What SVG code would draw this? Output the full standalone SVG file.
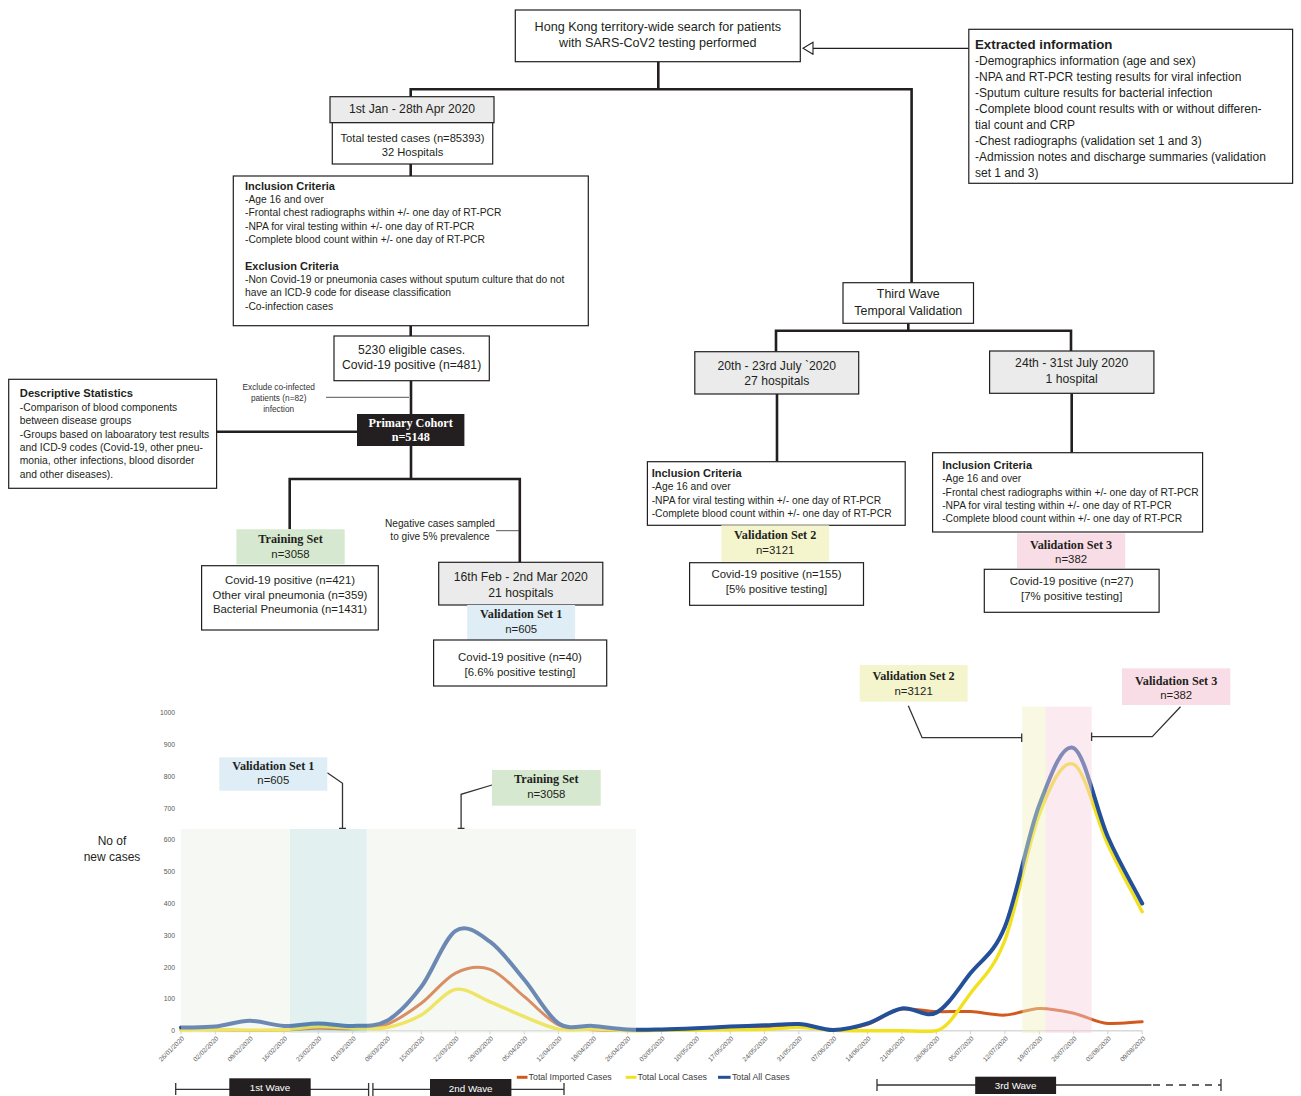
<svg xmlns="http://www.w3.org/2000/svg" width="1301" height="1096" viewBox="0 0 1301 1096">
<defs>
<style>
.box{fill:#fff;stroke:#231f20;stroke-width:1.2}
.gbox{fill:#ebebeb;stroke:#231f20;stroke-width:1.2}
.t{font-family:"Liberation Sans",Arial,sans-serif;fill:#231f20;dominant-baseline:central}
.c{text-anchor:middle}
.b{font-weight:bold}
.s{font-family:"Liberation Serif","Times New Roman",serif;font-weight:bold;font-size:12.2px}
.f12{font-size:12.2px}
.f11{font-size:11.4px}
.f10{font-size:10.3px}
.conn{stroke:#231f20;stroke-width:2.6;fill:none}
.thin{stroke:#555;stroke-width:1;fill:none}
.cl{stroke:#333;stroke-width:1.3;fill:none}
.dl{font-family:"Liberation Sans",Arial,sans-serif;font-size:6.5px;fill:#595959;text-anchor:end}
.yl{font-family:"Liberation Sans",Arial,sans-serif;font-size:6.8px;fill:#595959;text-anchor:end;dominant-baseline:central}
.lg{font-family:"Liberation Sans",Arial,sans-serif;font-size:8.8px;fill:#404040;dominant-baseline:central}
.wv{font-family:"Liberation Sans",Arial,sans-serif;font-size:9.8px;fill:#fff;text-anchor:middle;dominant-baseline:central}
</style>
<marker id="openTri" markerUnits="userSpaceOnUse" markerWidth="12" markerHeight="14" refX="10.5" refY="7" orient="auto" viewBox="0 0 12 14">
<path d="M0.5,1 L10.5,7 L0.5,13 Z" fill="#fff" stroke="#231f20" stroke-width="1.1"/>
</marker>
</defs>
<rect width="1301" height="1096" fill="#fff"/>

<!-- connectors -->
<g id="connectors">
<path class="conn" d="M658.3,61.7 V89.3 M409.4,89.3 H912.9 M410.7,89.3 V96.7 M911.6,89.3 V282.7"/>
<path class="conn" d="M410.7,164 V176 M410.7,325.7 V336 M411,380.7 V414"/>
<path class="conn" d="M216.6,431.7 H357"/>
<path class="conn" d="M411,446 V479 M288.4,479 H521.1 M289.7,479 V529.3 M519.8,479 V562.3"/>
<path class="conn" d="M908.3,323.3 V330.7 M774.7,330.7 H1072.3 M776,330.7 V351.7 M1071,330.7 V351"/>
<path class="conn" d="M777,394 V461.7 M1071.7,393.3 V452.7"/>
<line x1="968.8" y1="48.3" x2="803" y2="48.3" stroke="#231f20" stroke-width="1.3" marker-end="url(#openTri)"/>
<path class="thin" d="M326,397.3 H409 M496,530.7 H519"/>
</g>

<g id="n-search">
<rect class="box" x="515.3" y="10" width="285" height="51.7"/>
<text class="t c" x="657.8" y="27.3" style="font-size:12.6px">Hong Kong territory-wide search for patients</text>
<text class="t c" x="657.8" y="43.3" style="font-size:12.6px">with SARS-CoV2 testing performed</text>
</g>

<g id="n-extracted">
<rect class="box" x="968.8" y="29.3" width="323.8" height="154"/>
<text class="t b" x="975" y="44.3" style="font-size:13.3px">Extracted information</text>
<g class="t" style="font-size:12px">
<text x="975" y="60.7">-Demographics information (age and sex)</text>
<text x="975" y="77">-NPA and RT-PCR testing results for viral infection</text>
<text x="975" y="93">-Sputum culture results for bacterial infection</text>
<text x="975" y="109">-Complete blood count results with or without differen-</text>
<text x="975" y="125">tial count and CRP</text>
<text x="975" y="141">-Chest radiographs (validation set 1 and 3)</text>
<text x="975" y="157">-Admission notes and discharge summaries (validation</text>
<text x="975" y="172.7">set 1 and 3)</text>
</g>
</g>

<g id="n-period1">
<rect class="gbox" x="330" y="96.7" width="164" height="26"/>
<text class="t c f12" x="412" y="108.8">1st Jan - 28th Apr 2020</text>
</g>

<g id="n-tested">
<rect class="box" x="332.3" y="122.7" width="160.4" height="41.3"/>
<text class="t c" x="412.5" y="138.3" style="font-size:11.2px">Total tested cases (n=85393)</text>
<text class="t c" x="412.5" y="152.3" style="font-size:11.2px">32 Hospitals</text>
</g>

<g id="n-criteria1">
<rect class="box" x="233.3" y="176" width="355" height="149.7"/>
<text class="t b" x="245" y="186" style="font-size:11px">Inclusion Criteria</text>
<g class="t f10">
<text x="245" y="199.3">-Age 16 and over</text>
<text x="245" y="212.7">-Frontal chest radiographs within +/- one day of RT-PCR</text>
<text x="245" y="226">-NPA for viral testing within +/- one day of RT-PCR</text>
<text x="245" y="239.3">-Complete blood count within +/- one day of RT-PCR</text>
</g>
<text class="t b" x="245" y="265.7" style="font-size:11px">Exclusion Criteria</text>
<g class="t f10">
<text x="245" y="279.3">-Non Covid-19 or pneumonia cases without sputum culture that do not</text>
<text x="245" y="292.7">have an ICD-9 code for disease classification</text>
<text x="245" y="306">-Co-infection cases</text>
</g>
</g>

<g id="n-eligible">
<rect class="box" x="334" y="336" width="155.3" height="44.7"/>
<text class="t c f12" x="411.6" y="350">5230 eligible cases.</text>
<text class="t c f12" x="411.6" y="365">Covid-19 positive (n=481)</text>
</g>

<g id="n-exclude">
<text class="t c" x="278.7" y="387.3" style="font-size:8.3px;fill:#333">Exclude co-infected</text>
<text class="t c" x="278.7" y="398.3" style="font-size:8.3px;fill:#333">patients (n=82)</text>
<text class="t c" x="278.7" y="409" style="font-size:8.3px;fill:#333">infection</text>
</g>

<g id="n-primary">
<rect x="357" y="414" width="107.4" height="32" fill="#231f20"/>
<text class="t c s" x="410.7" y="422.7" style="fill:#fff">Primary Cohort</text>
<text class="t c s" x="410.7" y="437.3" style="fill:#fff">n=5148</text>
</g>

<g id="n-descstats">
<rect class="box" x="8.7" y="379.3" width="207.9" height="109"/>
<text class="t b" x="19.8" y="393.3" style="font-size:11.2px">Descriptive Statistics</text>
<g class="t f10">
<text x="19.8" y="407.3">-Comparison of blood components</text>
<text x="19.8" y="420.7">between disease groups</text>
<text x="19.8" y="434">-Groups based on laboaratory test results</text>
<text x="19.8" y="447.3">and ICD-9 codes (Covid-19, other pneu-</text>
<text x="19.8" y="460.7">monia, other infections, blood disorder</text>
<text x="19.8" y="474">and other diseases).</text>
</g>
</g>

<g id="n-training-label">
<rect x="236.4" y="529.3" width="108.3" height="35" fill="#d6e8cf"/>
<text class="t c s" x="290.5" y="539.3">Training Set</text>
<text class="t c f11" x="290.5" y="554">n=3058</text>
</g>

<g id="n-training">
<rect class="box" x="201.6" y="565.7" width="176.7" height="64.3"/>
<text class="t c f11" x="290" y="580">Covid-19 positive (n=421)</text>
<text class="t c f11" x="290" y="595">Other viral pneumonia (n=359)</text>
<text class="t c f11" x="290" y="609.3">Bacterial Pneumonia (n=1431)</text>
</g>

<g id="n-negative">
<text class="t c" x="440" y="523.3" style="font-size:10.1px">Negative cases sampled</text>
<text class="t c" x="440" y="536.7" style="font-size:10.1px">to give 5% prevalence</text>
</g>

<g id="n-period-v1">
<rect class="gbox" x="438.7" y="562.3" width="164.1" height="42.7"/>
<text class="t c f12" x="520.8" y="576.7">16th Feb - 2nd Mar 2020</text>
<text class="t c f12" x="520.8" y="592.7">21 hospitals</text>
</g>

<g id="n-v1-label">
<rect x="467.2" y="605" width="107.9" height="35" fill="#deedf6"/>
<text class="t c s" x="521.2" y="614">Validation Set 1</text>
<text class="t c f11" x="521.2" y="629">n=605</text>
</g>

<g id="n-v1">
<rect class="box" x="433.6" y="640" width="173.1" height="46"/>
<text class="t c f11" x="520" y="657.3">Covid-19 positive (n=40)</text>
<text class="t c f11" x="520" y="671.7">[6.6% positive testing]</text>
</g>

<g id="n-thirdwave">
<rect class="box" x="843" y="282.7" width="130.5" height="40.6"/>
<text class="t c" x="908.3" y="294" style="font-size:12.4px">Third Wave</text>
<text class="t c" x="908.3" y="310.7" style="font-size:12.4px">Temporal Validation</text>
</g>

<g id="n-period-v2">
<rect class="gbox" x="694.8" y="351.7" width="163.9" height="42.3"/>
<text class="t c f12" x="776.8" y="365.7">20th - 23rd July `2020</text>
<text class="t c f12" x="776.8" y="381.3">27 hospitals</text>
</g>

<g id="n-criteria2">
<rect class="box" x="647.4" y="461.7" width="257.8" height="63.6"/>
<text class="t b" x="651.7" y="473.3" style="font-size:11px">Inclusion Criteria</text>
<g class="t f10">
<text x="651.7" y="486.7">-Age 16 and over</text>
<text x="651.7" y="500">-NPA for viral testing within +/- one day of RT-PCR</text>
<text x="651.7" y="513.3">-Complete blood count within +/- one day of RT-PCR</text>
</g>
</g>

<g id="n-v2-label">
<rect x="721.3" y="525.3" width="107.8" height="36.4" fill="#f4f5cd"/>
<text class="t c s" x="775.2" y="535.3">Validation Set 2</text>
<text class="t c f11" x="775.2" y="550">n=3121</text>
</g>

<g id="n-v2">
<rect class="box" x="689.6" y="562.7" width="173.9" height="42.6"/>
<text class="t c f11" x="776.5" y="574">Covid-19 positive (n=155)</text>
<text class="t c f11" x="776.5" y="588.7">[5% positive testing]</text>
</g>

<g id="n-period-v3">
<rect class="gbox" x="989.6" y="351" width="164.3" height="42.3"/>
<text class="t c f12" x="1071.7" y="363.3">24th - 31st July 2020</text>
<text class="t c f12" x="1071.7" y="379.3">1 hospital</text>
</g>

<g id="n-criteria3">
<rect class="box" x="932.6" y="452.7" width="270" height="79.3"/>
<text class="t b" x="942.2" y="465" style="font-size:11px">Inclusion Criteria</text>
<g class="t f10">
<text x="942.2" y="478.7">-Age 16 and over</text>
<text x="942.2" y="492">-Frontal chest radiographs within +/- one day of RT-PCR</text>
<text x="942.2" y="505.3">-NPA for viral testing within +/- one day of RT-PCR</text>
<text x="942.2" y="518.7">-Complete blood count within +/- one day of RT-PCR</text>
</g>
</g>

<g id="n-v3-label">
<rect x="1017" y="533.3" width="108.2" height="35" fill="#f9dde6"/>
<text class="t c s" x="1071.1" y="545">Validation Set 3</text>
<text class="t c f11" x="1071.1" y="559.3">n=382</text>
</g>

<g id="n-v3">
<rect class="box" x="984.3" y="569.3" width="174.8" height="43"/>
<text class="t c f11" x="1071.7" y="581.3">Covid-19 positive (n=27)</text>
<text class="t c f11" x="1071.7" y="595.7">[7% positive testing]</text>
</g>

<!-- chart -->
<g id="chart">
<g id="y-axis">
<text class="yl" x="175" y="712.7">1000</text>
<text class="yl" x="175" y="744.5">900</text>
<text class="yl" x="175" y="776.3">800</text>
<text class="yl" x="175" y="808.1">700</text>
<text class="yl" x="175" y="839.9">600</text>
<text class="yl" x="175" y="871.7">500</text>
<text class="yl" x="175" y="903.5">400</text>
<text class="yl" x="175" y="935.3">300</text>
<text class="yl" x="175" y="967.1">200</text>
<text class="yl" x="175" y="998.9">100</text>
<text class="yl" x="175" y="1030.7">0</text>
<text class="t c" x="112" y="841" style="font-size:12px">No of</text>
<text class="t c" x="112" y="856.7" style="font-size:12px">new cases</text>
</g>
<path d="M181,1030.7 H1142.2" stroke="#d9d9d9" stroke-width="1.6"/>
<path d="M181,1030.7v3.5M215.3,1030.7v3.5M249.7,1030.7v3.5M284,1030.7v3.5M318.3,1030.7v3.5M352.7,1030.7v3.5M387,1030.7v3.5M421.3,1030.7v3.5M455.6,1030.7v3.5M490,1030.7v3.5M524.3,1030.7v3.5M558.6,1030.7v3.5M593,1030.7v3.5M627.3,1030.7v3.5M661.6,1030.7v3.5M696,1030.7v3.5M730.3,1030.7v3.5M764.6,1030.7v3.5M798.9,1030.7v3.5M833.3,1030.7v3.5M867.6,1030.7v3.5M901.9,1030.7v3.5M936.3,1030.7v3.5M970.6,1030.7v3.5M1004.9,1030.7v3.5M1039.3,1030.7v3.5M1073.6,1030.7v3.5M1107.9,1030.7v3.5M1142.2,1030.7v3.5" stroke="#d0d0d0" stroke-width="1"/>

<g id="series" fill="none" stroke-linecap="round" stroke-linejoin="round">
<path id="imported" stroke="#d2591d" stroke-width="3" d="M181,1029.4 C192.4,1029.5 203.9,1029.5 215.3,1029.7 S238.3,1030.3 249.7,1030.4 S272.6,1030.5 284,1030.1 S306.9,1028.4 318.3,1028.2 S341.3,1029.5 352.7,1028.8 S375.6,1028.6 387,1024.3 S409.9,1011.8 421.3,1003.3 S444.2,978.8 455.6,973.1 S478.6,965.4 490,969.3 S512.9,987.4 524.3,996.7 S547.2,1019.5 558.6,1025 S581.6,1028.8 593,1029.7 S615.9,1030.4 627.3,1030.4 S650.2,1030 661.6,1029.7 S684.6,1029.2 696,1028.8 S718.9,1027.9 730.3,1027.5 S753.2,1027 764.6,1026.6 S787.5,1025 798.9,1025.3 S821.9,1030.3 833.3,1030.1 S856.2,1027.8 867.6,1024.3 S890.5,1010.1 901.9,1009.1 S924.9,1011.2 936.3,1011.6 S959.2,1011 970.6,1011.6 S993.5,1015.6 1004.9,1015.1 S1027.9,1008.7 1039.3,1008.4 S1062.2,1010.7 1073.6,1013.2 S1096.5,1022.9 1107.9,1023.4 S1130.8,1022.3 1142.2,1021.8"/>
<path id="local" stroke="#f2e11e" stroke-width="3.4" d="M181,1030.1 C192.4,1030 203.9,1029.7 215.3,1029.7 S238.3,1030.1 249.7,1030.1 S272.6,1030.3 284,1029.7 S306.9,1026.9 318.3,1026.6 S341.3,1028.1 352.7,1028.2 S375.6,1029.7 387,1027.5 S409.9,1021.5 421.3,1015.1 S444.2,991.6 455.6,989.4 S478.6,997.3 490,1001.8 S512.9,1012.2 524.3,1016.7 S547.2,1027 558.6,1029.1 S581.6,1028.8 593,1029.1 S615.9,1030.5 627.3,1030.7 S650.2,1030.5 661.6,1030.4 S684.6,1030.2 696,1030.1 S718.9,1029.8 730.3,1029.7 S753.2,1029.8 764.6,1029.4 S787.5,1027.2 798.9,1027.2 S821.9,1029.8 833.3,1030.4 S856.2,1030.7 867.6,1030.7 S890.5,1030.7 901.9,1030.7 S924.9,1032.2 936.3,1030.7 S959.2,1008.3 970.6,993.2 S993.5,969.9 1004.9,940.1 S1027.9,843.8 1039.3,814.5 S1062.2,759.2 1073.6,764.2 S1096.5,820.1 1107.9,844.7 S1130.8,889.4 1142.2,911.8"/>
<path id="all" stroke="#24509a" stroke-width="4" d="M181,1027.5 C192.4,1027.2 203.9,1027.7 215.3,1026.6 S238.3,1020.9 249.7,1020.8 S272.6,1025.5 284,1025.9 S306.9,1023.4 318.3,1023.4 S341.3,1026.3 352.7,1025.9 S375.6,1027.3 387,1020.8 S409.9,1001.8 421.3,986.8 S444.2,938.3 455.6,930.8 S478.6,933.5 490,941.7 S512.9,966.2 524.3,979.8 S547.2,1015.7 558.6,1023.4 S581.6,1024.9 593,1025.9 S615.9,1028.8 627.3,1029.4 S650.2,1029.6 661.6,1029.4 S684.6,1028.7 696,1028.2 S718.9,1027.1 730.3,1026.6 S753.2,1025.7 764.6,1025.3 S787.5,1023.7 798.9,1024 S821.9,1030.1 833.3,1030 S856.2,1027 867.6,1023.4 S890.5,1010.2 901.9,1008.4 S924.9,1018.5 936.3,1012.6 S959.2,987.4 970.6,973.1 S993.5,954.7 1004.9,926.7 S1027.9,834.8 1039.3,805 S1062.2,742.7 1073.6,748 S1096.5,811.1 1107.9,837 S1130.8,881.5 1142.2,903.5"/>
</g>

<g id="bands">
<rect x="181" y="829" width="109" height="204" fill="#e7ecdf" fill-opacity="0.37"/>
<rect x="290" y="829" width="76.7" height="204" fill="#b1d7d7" fill-opacity="0.37"/>
<rect x="366.7" y="829" width="269.3" height="204" fill="#e7ecdf" fill-opacity="0.37"/>
<rect x="1022.3" y="706.7" width="23.4" height="326.3" fill="#efefc1" fill-opacity="0.45"/>
<rect x="1045.7" y="706.7" width="46" height="326.3" fill="#f6d0de" fill-opacity="0.45"/>
</g>

<g id="x-labels">
<text class="dl" transform="translate(184.5,1039) rotate(-45)">26/01/2020</text>
<text class="dl" transform="translate(218.8,1039) rotate(-45)">02/02/2020</text>
<text class="dl" transform="translate(253.2,1039) rotate(-45)">09/02/2020</text>
<text class="dl" transform="translate(287.5,1039) rotate(-45)">16/02/2020</text>
<text class="dl" transform="translate(321.8,1039) rotate(-45)">23/02/2020</text>
<text class="dl" transform="translate(356.2,1039) rotate(-45)">01/03/2020</text>
<text class="dl" transform="translate(390.5,1039) rotate(-45)">08/03/2020</text>
<text class="dl" transform="translate(424.8,1039) rotate(-45)">15/03/2020</text>
<text class="dl" transform="translate(459.1,1039) rotate(-45)">22/03/2020</text>
<text class="dl" transform="translate(493.5,1039) rotate(-45)">29/03/2020</text>
<text class="dl" transform="translate(527.8,1039) rotate(-45)">05/04/2020</text>
<text class="dl" transform="translate(562.1,1039) rotate(-45)">12/04/2020</text>
<text class="dl" transform="translate(596.5,1039) rotate(-45)">19/04/2020</text>
<text class="dl" transform="translate(630.8,1039) rotate(-45)">26/04/2020</text>
<text class="dl" transform="translate(665.1,1039) rotate(-45)">03/05/2020</text>
<text class="dl" transform="translate(699.5,1039) rotate(-45)">10/05/2020</text>
<text class="dl" transform="translate(733.8,1039) rotate(-45)">17/05/2020</text>
<text class="dl" transform="translate(768.1,1039) rotate(-45)">24/05/2020</text>
<text class="dl" transform="translate(802.4,1039) rotate(-45)">31/05/2020</text>
<text class="dl" transform="translate(836.8,1039) rotate(-45)">07/06/2020</text>
<text class="dl" transform="translate(871.1,1039) rotate(-45)">14/06/2020</text>
<text class="dl" transform="translate(905.4,1039) rotate(-45)">21/06/2020</text>
<text class="dl" transform="translate(939.8,1039) rotate(-45)">28/06/2020</text>
<text class="dl" transform="translate(974.1,1039) rotate(-45)">05/07/2020</text>
<text class="dl" transform="translate(1008.4,1039) rotate(-45)">12/07/2020</text>
<text class="dl" transform="translate(1042.8,1039) rotate(-45)">19/07/2020</text>
<text class="dl" transform="translate(1077.1,1039) rotate(-45)">26/07/2020</text>
<text class="dl" transform="translate(1111.4,1039) rotate(-45)">02/08/2020</text>
<text class="dl" transform="translate(1145.7,1039) rotate(-45)">09/08/2020</text>
</g>

<g id="chart-callouts">
<path class="cl" d="M327.3,772.7 L342.5,783.3 V828.3 M339,828.3 H346"/>
<path class="cl" d="M492,785 L461.1,794.3 V828.3 M457.7,828.3 H464.5"/>
<path class="cl" d="M908.3,705.7 L922.1,737.7 H1021.7 M1021.7,733.5 V742"/>
<path class="cl" d="M1180.5,706.7 L1152.3,736.7 H1091.6 M1091.6,732.5 V741"/>
<g id="c-v1"><rect x="219.3" y="757.3" width="108" height="33.4" fill="#deedf6"/>
<text class="t c s" x="273.3" y="766">Validation Set 1</text>
<text class="t c f11" x="273.3" y="780">n=605</text></g>
<g id="c-training"><rect x="492" y="770" width="108.7" height="35.7" fill="#d6e8cf"/>
<text class="t c s" x="546.3" y="779.3">Training Set</text>
<text class="t c f11" x="546.3" y="794">n=3058</text></g>
<g id="c-v2"><rect x="859.7" y="665" width="107.9" height="36.7" fill="#f4f5cd"/>
<text class="t c s" x="913.6" y="676">Validation Set 2</text>
<text class="t c f11" x="913.6" y="691">n=3121</text></g>
<g id="c-v3"><rect x="1122" y="668.3" width="108.3" height="36.7" fill="#f9dde6"/>
<text class="t c s" x="1176.2" y="680.7">Validation Set 3</text>
<text class="t c f11" x="1176.2" y="695.3">n=382</text></g>
</g>

<g id="legend">
<line x1="516.8" y1="1077.3" x2="527.5" y2="1077.3" stroke="#d2591d" stroke-width="3"/>
<text class="lg" x="528.6" y="1077.3">Total Imported Cases</text>
<line x1="625.7" y1="1077.3" x2="636.4" y2="1077.3" stroke="#f2e11e" stroke-width="3"/>
<text class="lg" x="637.5" y="1077.3">Total Local Cases</text>
<line x1="718" y1="1077.3" x2="730.6" y2="1077.3" stroke="#24509a" stroke-width="3"/>
<text class="lg" x="731.9" y="1077.3">Total All Cases</text>
</g>

<g id="waves">
<path class="cl" d="M175.7,1089.3 H368.6 M175.7,1083 V1095 M368.6,1083 V1096 M372.9,1083 V1096 M372.9,1089.3 H564 M564,1083 V1095"/>
<rect x="229.3" y="1078.3" width="81.4" height="18" fill="#231f20"/>
<text class="wv" x="270" y="1087.3">1st Wave</text>
<rect x="430" y="1079" width="81.4" height="17" fill="#231f20"/>
<text class="wv" x="470.7" y="1088.3">2nd Wave</text>
<path class="cl" d="M877,1085 H1151.4 M877,1079 V1091 M1221,1079 V1091"/>
<path class="cl" d="M1153,1085 H1221" stroke-dasharray="7,6"/>
<rect x="975.2" y="1076.7" width="80.9" height="17.3" fill="#231f20"/>
<text class="wv" x="1015.6" y="1085.4">3rd Wave</text>
</g>
</g>
</svg>
